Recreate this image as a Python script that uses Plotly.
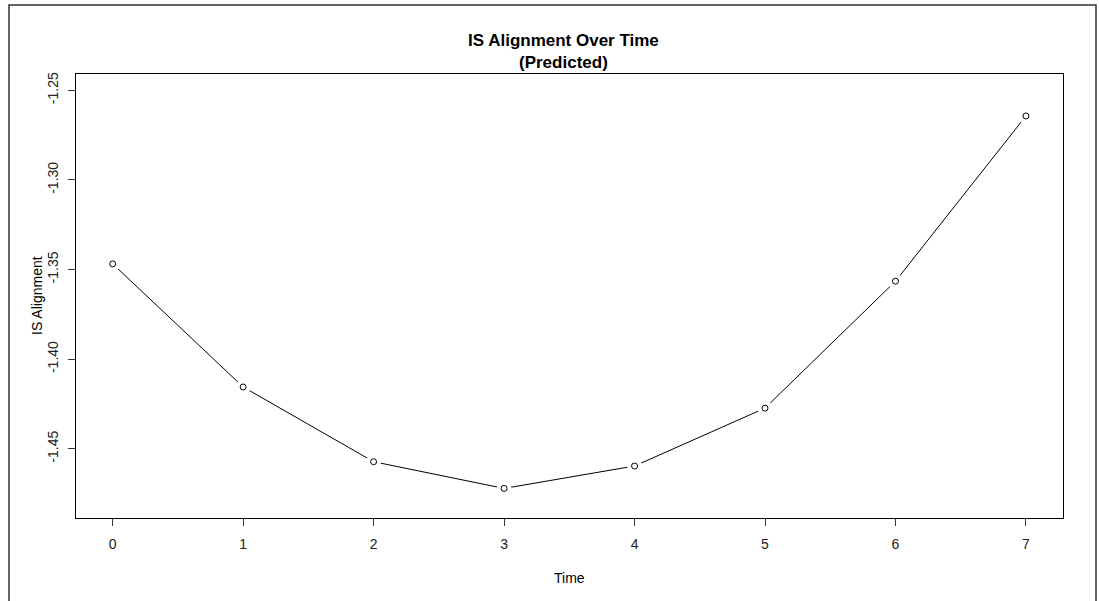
import plotly.graph_objects as go

# Predicted IS alignment at each time point
time = [0, 1, 2, 3, 4, 5, 6, 7]
is_alignment = [-1.3468, -1.4155, -1.4572, -1.4721, -1.4596, -1.4273, -1.3565, -1.2643]

x_ticks = [0, 1, 2, 3, 4, 5, 6, 7]
y_ticks = [-1.25, -1.30, -1.35, -1.40, -1.45]
y_tick_text = ["-1.25", "-1.30", "-1.35", "-1.40", "-1.45"]

FONT = "Liberation Sans, Arial, sans-serif"

fig = go.Figure()

# connecting line
fig.add_trace(go.Scatter(x=time, y=is_alignment, mode="lines",
                         line=dict(color="black", width=1), hoverinfo="skip"))
# white discs leave a small gap in the line around every point
fig.add_trace(go.Scatter(x=time, y=is_alignment, mode="markers",
                         marker=dict(symbol="circle", size=15, color="white",
                                     line=dict(width=0)), hoverinfo="skip"))
# open circle markers
fig.add_trace(go.Scatter(x=time, y=is_alignment, mode="markers",
                         marker=dict(symbol="circle-open", size=6, color="black",
                                     line=dict(width=1, color="black"))))

axis_common = dict(showline=True, linecolor="black", linewidth=1, mirror=True,
                   ticks="outside", ticklen=7, tickcolor="#333", tickwidth=1,
                   showgrid=False, zeroline=False,
                   tickfont=dict(family=FONT, size=14, color="#222"))

fig.update_xaxes(range=[-0.281, 7.284], tickvals=x_ticks,
                 ticktext=[str(t) for t in x_ticks], ticklabelstandoff=6,
                 **axis_common)
fig.update_yaxes(range=[-1.4886, -1.2409], tickvals=y_ticks, ticktext=y_tick_text,
                 tickangle=-90, ticklabelstandoff=4, **axis_common)

title_lines = [("<b>IS Alignment Over Time</b>", 41), ("<b>(Predicted)</b>", 62)]
ann = []
for text, py in title_lines:
    ann.append(dict(text=text, x=0.4935, xref="paper", yref="paper",
                    y=(518 - py) / 444, xanchor="center", yanchor="middle",
                    showarrow=False, font=dict(family=FONT, size=17, color="black")))
ann.append(dict(text="Time", x=0.5, xref="paper", y=(518 - 578) / 444, yref="paper",
                xanchor="center", yanchor="middle", showarrow=False,
                font=dict(family=FONT, size=14, color="black")))
ann.append(dict(text="IS Alignment", x=(37 - 76) / 987, xref="paper", y=0.5, yref="paper",
                xanchor="center", yanchor="middle", textangle=-90, showarrow=False,
                font=dict(family=FONT, size=14, color="black")))

fig.update_layout(
    width=1099, height=601,
    margin=dict(l=76, r=36, t=74, b=83),
    plot_bgcolor="white", paper_bgcolor="white",
    showlegend=False,
    annotations=ann,
    shapes=[dict(type="rect", xref="paper", yref="paper",
                 x0=(9 - 76) / 987, x1=(1096 - 76) / 987,
                 y0=(518 - 620) / 444, y1=(518 - 5) / 444,
                 line=dict(color="#333", width=1.5), fillcolor="rgba(0,0,0,0)",
                 layer="below")],
)

fig.write_html("out.html")
